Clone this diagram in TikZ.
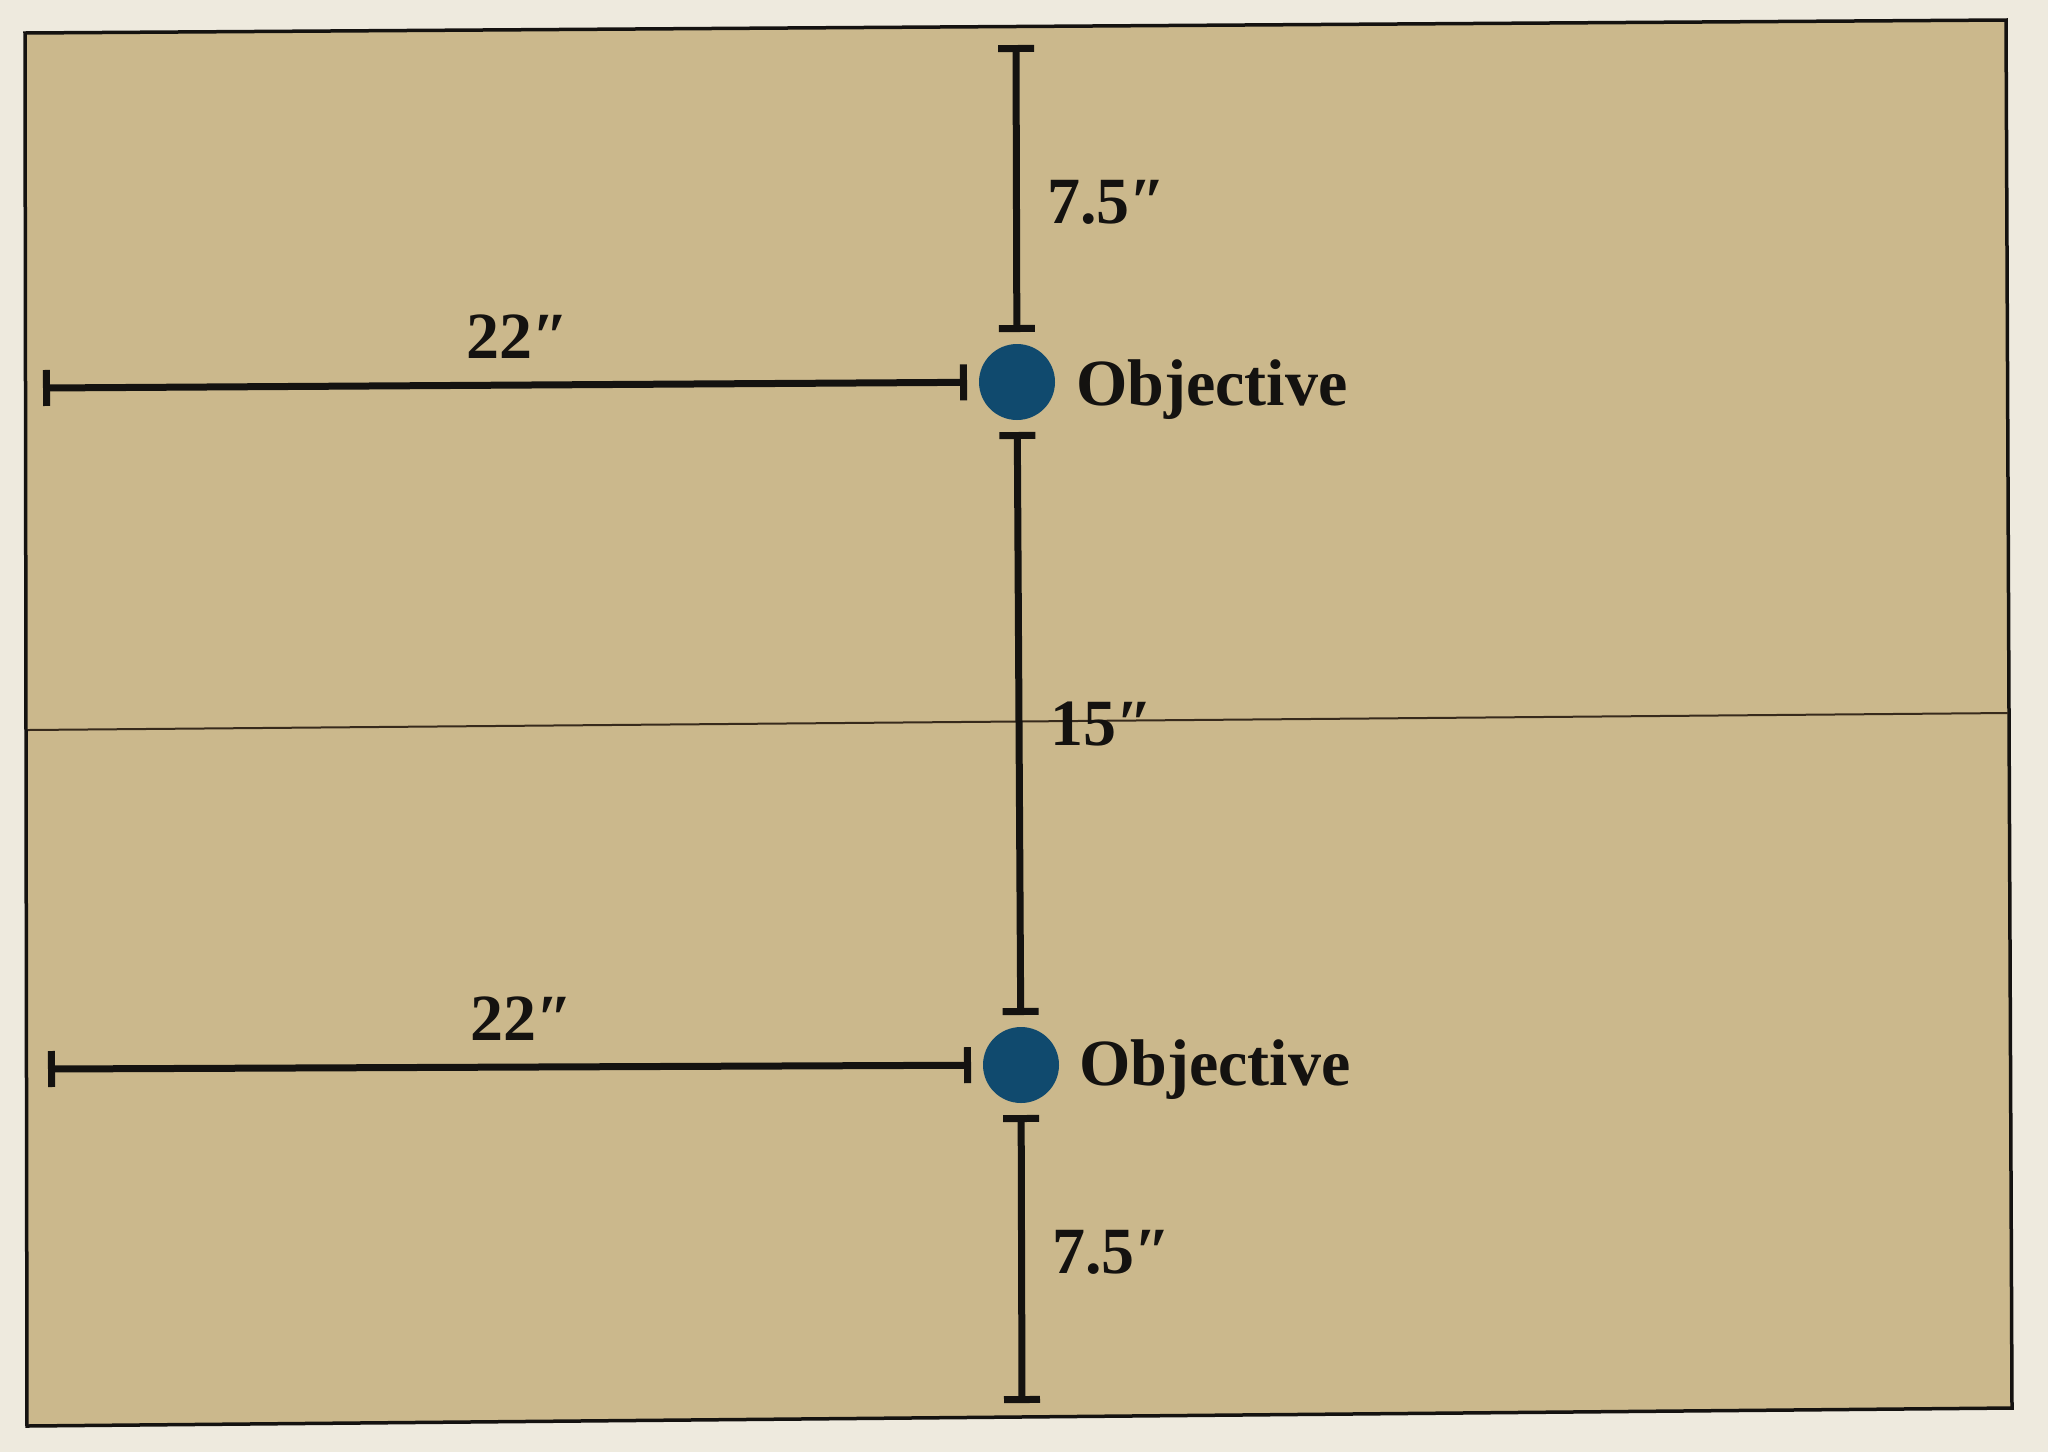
\documentclass[tikz,border=0pt]{standalone}
\usepackage{fontspec}
\setmainfont{Liberation Serif}
\usetikzlibrary{arrows.meta}
\definecolor{paper}{RGB}{203,184,140}
\definecolor{offwhite}{RGB}{238,234,222}
\definecolor{objblue}{RGB}{16,74,110}
\definecolor{ink}{RGB}{20,18,16}
\definecolor{creasecol}{RGB}{55,42,28}
\begin{document}
\begin{tikzpicture}[x=1pt,y=-1pt,
  dimline/.style={draw=ink, line width=7pt, {Bar[width=36pt]}-{Bar[width=36pt]}},
  objdot/.style={circle, fill=objblue, minimum size=76pt, inner sep=0pt, outer sep=12pt},
  lbl/.style={anchor=base west, inner sep=0pt, text=ink, font=\fontsize{66}{72}\selectfont\bfseries}]
\useasboundingbox (0,0) rectangle (2048,1452);
\fill[offwhite] (0,0) rectangle (2048,1452);
\filldraw[fill=paper, draw=ink, line width=3.5pt] (25,33) -- (2006,20) -- (2012,1408) -- (27,1426) -- cycle;
\draw[creasecol, line width=2pt] (28,730) -- (2008,713);

\node[objdot] (o1) at (1017,382) {};
\node[objdot] (o2) at (1021,1065) {};
\coordinate (t1) at (1016,45);
\coordinate (b2) at (1022,1403);
\coordinate (l1) at (43,388);
\coordinate (l2) at (48,1069);

\draw[dimline] (t1) -- (o1);
\draw[dimline] (o1) -- (o2);
\draw[dimline] (o2) -- (b2);
\draw[dimline] (l1) -- (o1);
\draw[dimline] (l2) -- (o2);

\node[lbl] (d1) at (1047,223) {7.5″};
\node[lbl] (n1) at (1076,405) {Objective};
\node[lbl] (d2) at (466,358) {22″};
\node[lbl] (d3) at (1050,745) {15″};
\node[lbl] (d4) at (470,1040) {22″};
\node[lbl] (n2) at (1079,1085) {Objective};
\node[lbl] (d5) at (1052,1273) {7.5″};
\end{tikzpicture}
\end{document}
